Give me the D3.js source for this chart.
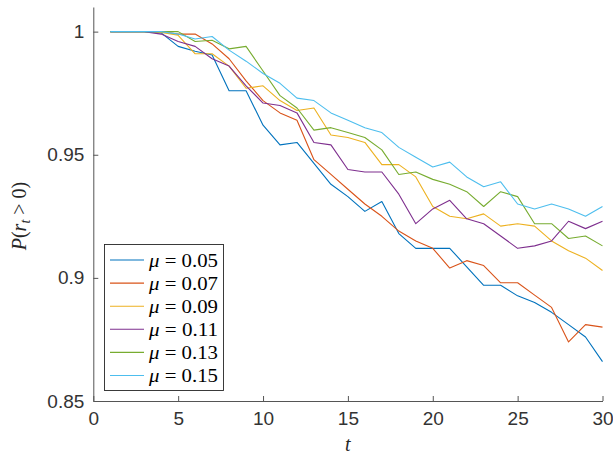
<!DOCTYPE html>
<html>
<head>
<meta charset="utf-8">
<script src="https://cdn.jsdelivr.net/npm/d3@7"></script>
<style>
body{margin:0;background:#fff;}
.serif{font-family:"Liberation Serif","DejaVu Serif","Times New Roman",serif;}
</style>
</head>
<body>
<svg></svg>
<script>
// data
var tValues = d3.range(1,31);
var muLabels = ["0.05","0.07","0.09","0.11","0.13","0.15"];
var p005 = [1,1,1,0.9995,0.994,0.992,0.9905,0.976,0.976,0.962,0.954,0.955,0.9465,0.938,0.933,0.927,0.931,0.918,0.912,0.912,0.912,0.9045,0.897,0.897,0.8927,0.890,0.886,0.881,0.876,0.866];
var p007 = [1,1,1,1,0.999,0.999,0.995,0.989,0.980,0.972,0.967,0.964,0.948,0.942,0.936,0.930,0.925,0.919,0.915,0.912,0.904,0.907,0.905,0.898,0.898,0.893,0.888,0.874,0.881,0.880];
var p009 = [1,1,1,0.9997,0.9985,0.991,0.991,0.986,0.977,0.978,0.972,0.968,0.969,0.958,0.957,0.955,0.946,0.946,0.941,0.929,0.925,0.924,0.926,0.921,0.922,0.921,0.915,0.911,0.908,0.903];
var p011 = [1,1,1,0.999,0.996,0.994,0.989,0.986,0.978,0.971,0.970,0.967,0.955,0.954,0.944,0.943,0.943,0.934,0.922,0.928,0.9315,0.924,0.922,0.917,0.912,0.913,0.915,0.923,0.920,0.923];
var p013 = [1,1,1,1,1,0.996,0.9965,0.993,0.994,0.984,0.974,0.969,0.960,0.961,0.959,0.957,0.952,0.942,0.943,0.940,0.938,0.935,0.929,0.935,0.933,0.922,0.922,0.916,0.917,0.913];
var p015 = [1,1,1,1,0.999,0.997,0.998,0.9925,0.988,0.983,0.979,0.973,0.972,0.967,0.964,0.961,0.959,0.953,0.949,0.945,0.947,0.941,0.937,0.939,0.930,0.928,0.930,0.928,0.925,0.929];
var series = [p005,p007,p009,p011,p013,p015];
var xTicks = [0,5,10,15,20,25,30];
var yTicks = [0.85,0.9,0.95,1];

var colors = ["#0072BD","#D95319","#EDB120","#7E2F8E","#77AC30","#4DBEEE"];

const W = 613, H = 457;
var x = d3.scaleLinear().domain([0,30]).range([93.3,602.5]);
var y = d3.scaleLinear().domain([0.85,1.01]).range([401,7]);

var svg = d3.select("svg").attr("width",W).attr("height",H);

var line = d3.line()
    .x(function(d,i){return x(tValues[i]);})
    .y(function(d){return y(d);});

series.forEach(function(s,k){
    svg.append("path")
        .datum(s)
        .attr("d",line)
        .attr("fill","none")
        .attr("stroke",colors[k])
        .attr("stroke-width",1.1)
        .attr("stroke-linejoin","round");
});

var xAxis = svg.append("g")
    .attr("transform","translate(0,"+y.range()[0]+")")
    .call(d3.axisBottom(x).tickValues(xTicks).tickSizeInner(-5).tickSizeOuter(0).tickPadding(11));
var yAxis = svg.append("g")
    .attr("transform","translate("+x.range()[0]+",0)")
    .call(d3.axisLeft(y).tickValues(yTicks).tickSizeInner(-5).tickSizeOuter(0).tickPadding(9)
        .tickFormat(function(d){return String(+d.toFixed(2));}));

[xAxis,yAxis].forEach(function(a){
    a.select(".domain").attr("stroke","#555").attr("stroke-width",1);
    a.selectAll(".tick line").attr("stroke","#555").attr("stroke-width",1);
    a.selectAll(".tick text")
        .attr("fill","#333")
        .style("font-family","'Liberation Sans', Arial, sans-serif")
        .style("font-size","19px");
});

// axis labels
svg.append("text")
    .attr("class","serif")
    .attr("x",(x.range()[0]+x.range()[1])/2)
    .attr("y",451)
    .attr("text-anchor","middle")
    .style("font-style","italic")
    .style("font-size","20px")
    .attr("fill","#262626")
    .text("t");

var ylab = svg.append("text")
    .attr("class","serif")
    .attr("transform","translate(26,216) rotate(-90)")
    .attr("text-anchor","middle")
    .style("font-size","20px")
    .attr("fill","#262626");
ylab.append("tspan").style("font-style","italic").text("P");
ylab.append("tspan").text("(");
ylab.append("tspan").style("font-style","italic").text("r");
ylab.append("tspan").style("font-style","italic").style("font-size","14px").attr("dy",4).text("t");
ylab.append("tspan").attr("dy",-4).text(" > 0)");

// legend
var legend = svg.append("g");
legend.append("rect")
    .attr("x",104.5).attr("y",244.5)
    .attr("width",119).attr("height",146)
    .attr("fill","#fff")
    .attr("stroke","#262626")
    .attr("stroke-width",0.9);
var rows = legend.selectAll("g.row").data(muLabels).enter().append("g")
    .attr("class","row")
    .attr("transform",function(d,i){return "translate(0,"+(260+i*23.1)+")";});
rows.append("line")
    .attr("x1",110).attr("x2",144)
    .attr("stroke",function(d,i){return colors[i];})
    .attr("stroke-width",1.1);
rows.append("text")
    .attr("class","serif")
    .attr("x",149).attr("y",6.5)
    .attr("textLength",69)
    .attr("lengthAdjust","spacingAndGlyphs")
    .style("font-size","18px")
    .attr("fill","#000")
    .html(function(d){return "<tspan font-style='italic'>\u03BC</tspan> = "+d;});
</script>
</body>
</html>
